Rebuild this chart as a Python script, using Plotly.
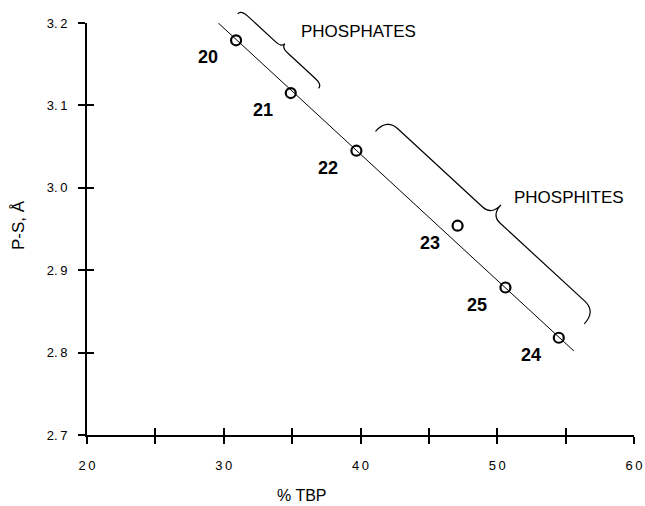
import numpy as np
import plotly.graph_objects as go

# ---- data ----
compounds = ["20", "21", "22", "23", "25", "24"]
tbp_pct = [30.9, 34.9, 39.7, 47.1, 50.6, 54.5]
ps_dist = [3.179, 3.115, 3.045, 2.954, 2.879, 2.818]

fit_x = [29.6, 55.6]
fit_y = [3.200, 2.802]

x_ticks = [20, 25, 30, 35, 40, 45, 50, 55, 60]
x_tick_labels = ["2\u20090", "", "3\u20090", "", "4\u20090", "", "5\u20090", "", "6\u20090"]
y_ticks = [2.7, 2.8, 2.9, 3.0, 3.1, 3.2]
y_tick_labels = ["2.\u20097", "2.\u20098", "2.\u20099", "3.\u20090", "3.\u20091", "3.\u20092"]

x_range = [20, 60]
y_range = [2.7, 3.2]

# ---- layout geometry (screen pixels; body margin removed by post_script) ----
W, H = 645, 506
PL, PR, PT, PB = 87, 634, 23, 435   # plot area on screen
PW, PH = PR - PL, PB - PT
FONT = "Liberation Sans, Arial, Helvetica, sans-serif"


def to_px(x, y):
    return (PL + (x - x_range[0]) / (x_range[1] - x_range[0]) * PW,
            PT + (y_range[1] - y) / (y_range[1] - y_range[0]) * PH)


def paper(sx, sy):
    return (sx - PL) / PW, (PB - sy) / PH


p0 = np.array(to_px(fit_x[0], fit_y[0]))
p1 = np.array(to_px(fit_x[1], fit_y[1]))
u = (p1 - p0) / np.linalg.norm(p1 - p0)
n = np.array([u[1], -u[0]])  # normal pointing up-right


def brace_path(t0, t1, a, r1, h1, r2, h2):
    def P(t, s):
        q = p0 + t * u + s * n
        x, y = paper(q[0], q[1])
        return f"{x:.5f},{y:.5f}"
    tm = 0.5 * (t0 + t1)
    arm = a + r1
    return (f"M {P(t0, a)} Q {P(t0, arm)} {P(t0 + h1, arm)} "
            f"L {P(tm - h2, arm)} Q {P(tm, arm)} {P(tm, arm + r2)} "
            f"Q {P(tm, arm)} {P(tm + h2, arm)} "
            f"L {P(t1 - h1, arm)} Q {P(t1, arm)} {P(t1, a)}")


fig = go.Figure()

fig.add_trace(go.Scatter(x=fit_x, y=fit_y, mode="lines",
                         line=dict(color="black", width=1), hoverinfo="skip"))
fig.add_trace(go.Scatter(x=tbp_pct, y=ps_dist, mode="markers",
                         marker=dict(symbol="circle-open", size=10, color="black",
                                     line=dict(width=2.2, color="black"))))
# dummy trace for overlay axes (inside tick marks)
fig.add_trace(go.Scatter(x=[x_range[0]], y=[y_range[0]], xaxis="x2", yaxis="y2",
                         mode="markers", marker=dict(opacity=0), hoverinfo="skip"))

for lab, x, y in zip(compounds, tbp_pct, ps_dist):
    fig.add_annotation(x=x, y=y, text=lab, showarrow=False, xshift=-28, yshift=-17,
                       font=dict(family=FONT, size=18, color="black", weight="bold"))

fig.add_shape(type="path", xref="paper", yref="paper",
              path=brace_path(8, 118, 20, 5, 9, 5, 8),
              line=dict(color="black", width=1.2))
fig.add_shape(type="path", xref="paper", yref="paper",
              path=brace_path(189, 473, 27, 17, 15, 14, 12),
              line=dict(color="black", width=1.2))

ax, ay = paper(299, 32)
fig.add_annotation(xref="paper", yref="paper", x=ax, y=ay,
                   text="PHOSPHATES", showarrow=False, xanchor="left", yanchor="middle",
                   font=dict(family=FONT, size=17, color="black"))
ax, ay = paper(512, 197)
fig.add_annotation(xref="paper", yref="paper", x=ax, y=ay,
                   text="PHOSPHITES", showarrow=False, xanchor="left", yanchor="middle",
                   font=dict(family=FONT, size=17, color="black"))

ax, ay = paper(302, 495)
fig.add_annotation(xref="paper", yref="paper", x=ax, y=ay,
                   text="% TBP", showarrow=False, xanchor="center", yanchor="middle",
                   font=dict(family=FONT, size=16, color="black"))
ax, ay = paper(18, 225)
fig.add_annotation(xref="paper", yref="paper", x=ax, y=ay,
                   text="P-S, Å", showarrow=False, xanchor="center", yanchor="middle",
                   textangle=-90, font=dict(family=FONT, size=17, color="black"))

axis_common = dict(showgrid=False, zeroline=False, showline=True, linecolor="black",
                   linewidth=2, tickcolor="black", tickwidth=2, ticklen=7,
                   automargin=False)

fig.update_layout(
    width=W, height=H,
    margin=dict(l=PL, r=W - PR, t=PT, b=H - PB, pad=0),
    paper_bgcolor="white", plot_bgcolor="white", showlegend=False,
    font=dict(family=FONT, color="black"),
    xaxis=dict(range=x_range, tickmode="array", tickvals=x_ticks, ticktext=x_tick_labels,
               ticks="outside", tickfont=dict(size=13), ticklabelstandoff=10,
               ticklabeloverflow="allow", **axis_common),
    yaxis=dict(range=y_range, tickmode="array", tickvals=y_ticks, ticktext=y_tick_labels,
               ticks="outside", tickfont=dict(size=13), ticklabelstandoff=8, **axis_common),
    xaxis2=dict(range=x_range, overlaying="x", anchor="y2", tickmode="array",
                tickvals=x_ticks, ticks="inside", showticklabels=False, **axis_common),
    yaxis2=dict(range=y_range, overlaying="y", anchor="x2", tickmode="array",
                tickvals=y_ticks, ticks="inside", showticklabels=False, **axis_common),
)

fig.write_html(
    "out.html",
    config={"displayModeBar": False},
    post_script="document.body.style.margin='0';"
                "document.documentElement.style.overflow='hidden';",
)
